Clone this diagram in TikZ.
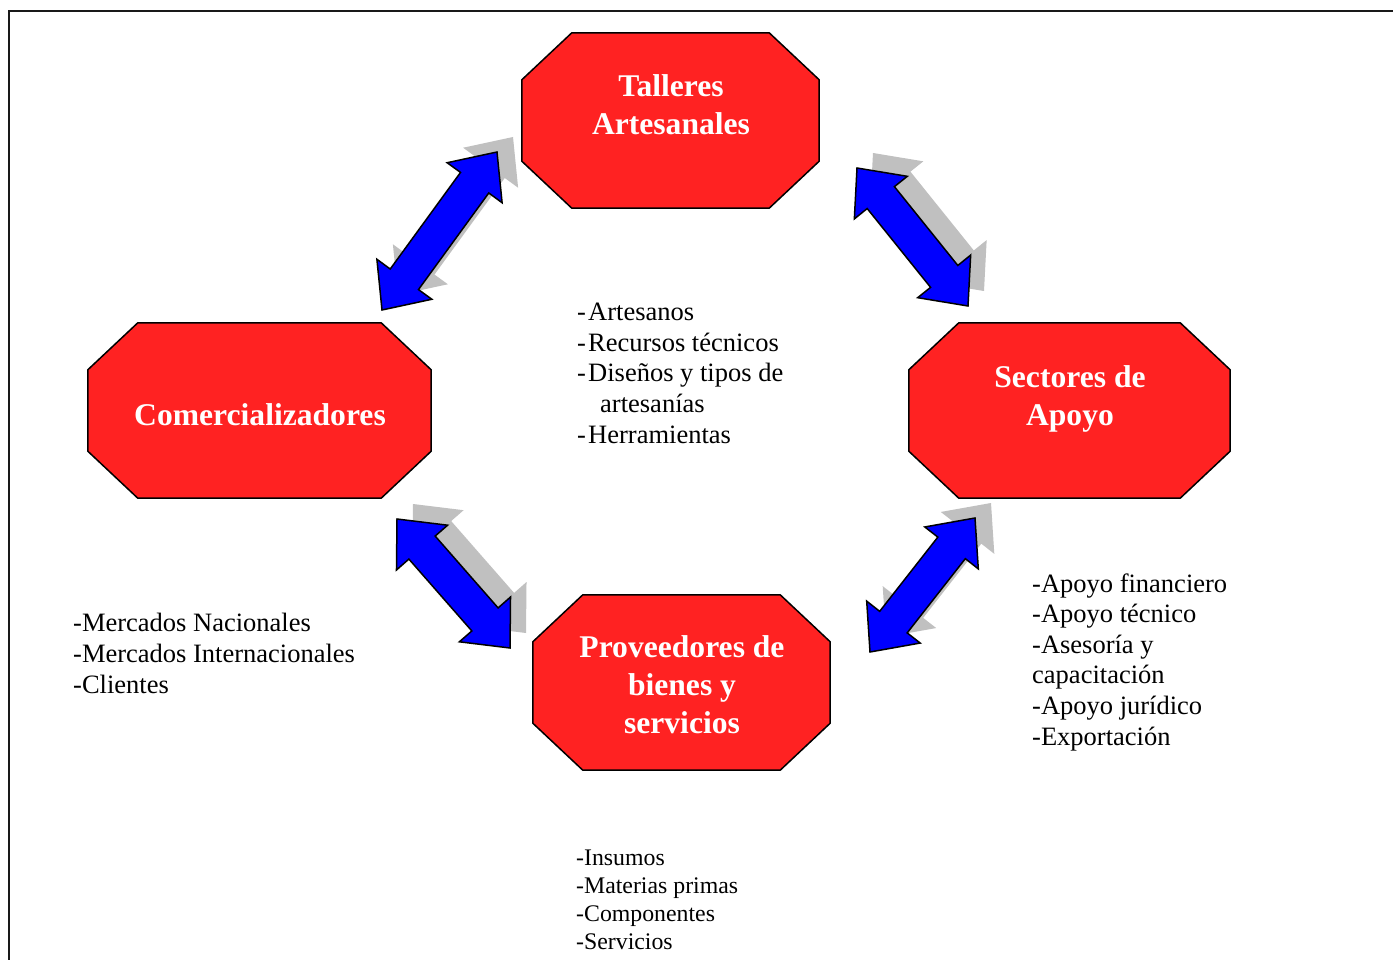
\documentclass[tikz,border=0pt]{standalone}
\usepackage{fontspec}
\setmainfont{Liberation Serif}
\usetikzlibrary{calc}
\definecolor{octred}{RGB}{255,34,34}
\definecolor{arrblue}{RGB}{0,0,255}
\definecolor{shadowgray}{RGB}{192,192,192}
\tikzset{
  octbox/.style={minimum height=175pt, inner sep=0pt, draw=none},
  octshape/.style={fill=octred, draw=black, line width=1.5pt, line join=miter},
  title/.style={text=white, align=center, inner sep=0pt, font=\fontsize{31.6}{38}\selectfont\bfseries},
  listtext/.style={align=left, inner sep=0pt, anchor=base west, font=\fontsize{26.5}{30.6}\selectfont},
  smalllist/.style={align=left, inner sep=0pt, anchor=base west, font=\fontsize{23.8}{28}\selectfont},
  arrfill/.style={fill=arrblue, draw=black, line width=1.5pt, line join=miter},
  arrshadow/.style={fill=shadowgray, transform canvas={xshift=16pt, yshift=15pt}},
  frameline/.style={draw=black!90, line width=2.2pt}
}
\newcommand\octagonshape[1]{%
  \filldraw[octshape] ($(#1.north west)+(50,0)$) -- ($(#1.north east)+(-50,0)$)
    -- ($(#1.north east)+(0,47)$) -- ($(#1.south east)+(0,-47)$)
    -- ($(#1.south east)+(-50,0)$) -- ($(#1.south west)+(50,0)$)
    -- ($(#1.south west)+(0,-47)$) -- ($(#1.north west)+(0,47)$) -- cycle;}
\newcommand\dblarrow[3]{%
  \path[#3] (#1) -- ($(#1)!51pt!41.8:(#2)$) -- ($(#1)!41.8pt!24.7:(#2)$)
    -- ($(#2)!41.8pt!-24.7:(#1)$) -- ($(#2)!51pt!-41.8:(#1)$) -- (#2)
    -- ($(#2)!51pt!41.8:(#1)$) -- ($(#2)!41.8pt!24.7:(#1)$)
    -- ($(#1)!41.8pt!-24.7:(#2)$) -- ($(#1)!51pt!-41.8:(#2)$) -- cycle;}
\begin{document}
\begin{tikzpicture}[x=1pt, y=-1pt]
\useasboundingbox (0,0) rectangle (1393,960);
\fill[white] (0,0) rectangle (1393,960);
% frame
\coordinate (frTR) at (1393,11);
\coordinate (frTL) at (9,11);
\coordinate (frBL) at (9,960);
\draw[frameline] (frTR) -- (frTL) -- (frBL);

% octagons
\node[octbox, minimum width=297pt] (tal) at (670.5,120.5) {};
\node[octbox, minimum width=343pt] (com) at (259.5,410.5) {};
\node[octbox, minimum width=321pt] (sec) at (1069.5,410.5) {};
\node[octbox, minimum width=297pt] (pro) at (681.5,682.5) {};
\octagonshape{tal}
\octagonshape{com}
\octagonshape{sec}
\octagonshape{pro}
\node[title] (talT) at (671,104.5) {Talleres\\Artesanales};
\node[title] (comT) at (260,415) {Comercializadores};
\node[title] (secT) at (1070,399) {Sectores de\\Apoyo};
\node[title] (proT) at (682,685) {Proveedores de\\bienes y\\servicios};

% block arrows
\coordinate (a1s) at (382,310);
\coordinate (a1e) at (497,152);
\coordinate (a2s) at (857,168);
\coordinate (a2e) at (968,306);
\coordinate (a3s) at (397,519);
\coordinate (a3e) at (510,648);
\coordinate (a4s) at (975,518);
\coordinate (a4e) at (870,652);
\dblarrow{a1s}{a1e}{arrshadow}
\dblarrow{a2s}{a2e}{arrshadow}
\dblarrow{a3s}{a3e}{arrshadow}
\dblarrow{a4s}{a4e}{arrshadow}
\dblarrow{a1s}{a1e}{arrfill}
\dblarrow{a2s}{a2e}{arrfill}
\dblarrow{a3s}{a3e}{arrfill}
\dblarrow{a4s}{a4e}{arrfill}

% lists
\node[listtext] (centerList) at (577,443) {\makebox[11pt][l]{-}Artesanos\\
\makebox[11pt][l]{-}Recursos técnicos\\
\makebox[11pt][l]{-}Diseños y tipos de\\
\hspace*{23pt}artesanías\\
\makebox[11pt][l]{-}Herramientas};
\node[listtext] (leftList) at (73,693) {-Mercados Nacionales\\-Mercados Internacionales\\-Clientes};
\node[listtext] (rightList) at (1032,745) {-Apoyo financiero\\-Apoyo técnico\\-Asesoría y\\capacitación\\-Apoyo jurídico\\-Exportación};
\node[smalllist] (bottomList) at (576,949.5) {-Insumos\\-Materias primas\\-Componentes\\-Servicios};
\end{tikzpicture}
\end{document}
